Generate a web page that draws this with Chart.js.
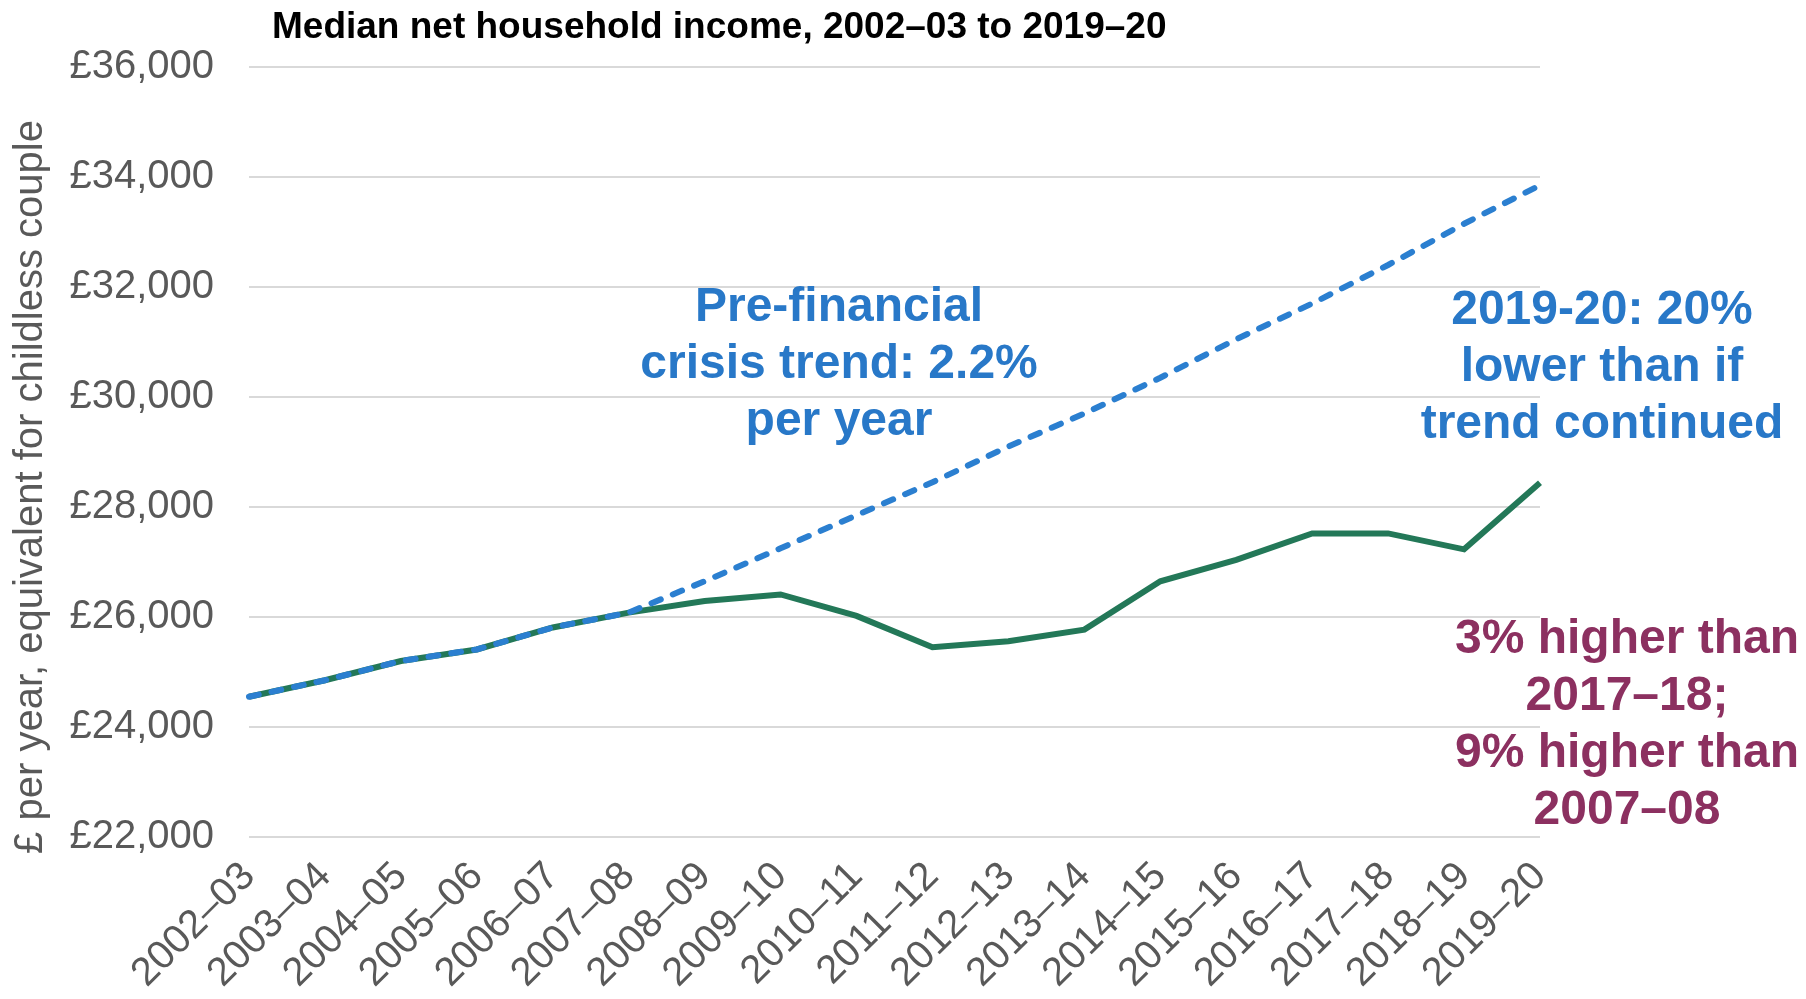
<!DOCTYPE html>
<html>
<head>
<meta charset="utf-8">
<script src="https://cdn.jsdelivr.net/npm/chart.js@4/dist/chart.umd.min.js"></script>
<style>
  html, body { margin: 0; background: #ffffff; }
  canvas { display: block; }
</style>
</head>
<body>
<canvas id="incomeChart" width="1806" height="999"></canvas>
<script>
// values
const years = ['2002–03', '2003–04', '2004–05', '2005–06', '2006–07', '2007–08', '2008–09', '2009–10', '2010–11',
  '2011–12', '2012–13', '2013–14', '2014–15', '2015–16', '2016–17', '2017–18', '2018–19', '2019–20'];
const medianIncome = [24550, 24850, 25200, 25410, 25810, 26080, 26290, 26410, 26020,
  25450, 25560, 25770, 26650, 27040, 27520, 27520, 27230, 28440];
const preCrisisTrend = [24550, 24850, 25200, 25410, 25810, 26080, 26650, 27250, 27850,
  28450, 29100, 29700, 30350, 31050, 31700, 32400, 33150, 33850];
const yMin = 22000;
const yMax = 36000;
const yStep = 2000;

const chartTitle = 'Median net household income, 2002–03 to 2019–20';
const yAxisTitle = '£ per year, equivalent for childless couple';
const trendNote = ['Pre-financial', 'crisis trend: 2.2%', 'per year'];
const gapNote = ['2019-20: 20%', 'lower than if', 'trend continued'];
const riseNote = ['3% higher than', '2017–18;', '9% higher than', '2007–08'];

const FONT = "'Liberation Sans', Arial, sans-serif";

// title, axis title and text notes
const notesPlugin = {
  id: 'notes',
  afterDraw(chart) {
    const ctx = chart.ctx;
    ctx.save();
    ctx.fillStyle = '#000000';
    ctx.font = 'bold 37px ' + FONT;
    ctx.textAlign = 'left';
    ctx.textBaseline = 'alphabetic';
    ctx.fillText(chartTitle, 272, 38);

    // axis title sits a bit below the plot's middle, like in the original
    ctx.save();
    ctx.translate(31, 487);
    ctx.rotate(-Math.PI / 2);
    ctx.fillStyle = '#595959';
    ctx.font = '40px ' + FONT;
    ctx.textAlign = 'center';
    ctx.textBaseline = 'middle';
    ctx.fillText(yAxisTitle, 0, 0);
    ctx.restore();

    function block(lines, cx, y0, color) {
      ctx.fillStyle = color;
      ctx.font = 'bold 48px ' + FONT;
      ctx.textAlign = 'center';
      lines.forEach(function(t, i) {
        ctx.fillText(t, cx, y0 + i * 57);
      });
    }
    block(trendNote, 839, 321, '#2878C8');
    block(gapNote, 1602, 324, '#2878C8');
    block(riseNote, 1627, 653, '#8C3060');
    ctx.restore();
  }
};

const ctx = document.getElementById('incomeChart');
window.incomeChart = new Chart(ctx, {
  type: 'line',
  data: {
    labels: years,
    datasets: [
      {
        label: 'Pre-financial crisis trend',
        data: preCrisisTrend,
        borderColor: '#2B7FD0',
        borderWidth: 6,
        borderDash: [10, 13],
        borderCapStyle: 'round',
        pointRadius: 0,
        tension: 0,
        order: 0
      },
      {
        label: 'Median net household income',
        data: medianIncome,
        borderColor: '#237858',
        borderWidth: 6,
        pointRadius: 0,
        tension: 0,
        order: 1
      }
    ]
  },
  options: {
    responsive: false,
    animation: false,
    devicePixelRatio: 1,
    layout: { padding: { top: 67, right: 266, left: 0, bottom: 0 } },
    plugins: {
      legend: { display: false },
      tooltip: { enabled: false },
      title: { display: false }
    },
    scales: {
      x: {
        offset: false,
        grid: { display: false, drawTicks: false },
        border: { display: false },
        ticks: {
          autoSkip: false,
          maxRotation: 45,
          minRotation: 45,
          padding: 16,
          color: '#595959',
          font: { family: FONT, size: 40 }
        },
        afterFit(scale) { scale.height = 162; }
      },
      y: {
        min: yMin,
        max: yMax,
        grid: { color: '#D9D9D9', lineWidth: 2, drawTicks: false },
        border: { display: false },
        ticks: {
          stepSize: yStep,
          padding: 35,
          color: '#595959',
          font: { family: FONT, size: 40 },
          callback: function(v) { return '£' + v.toLocaleString('en-GB'); }
        },
        afterFit(scale) { scale.width = 249; }
      }
    }
  },
  plugins: [notesPlugin]
});
</script>
</body>
</html>
